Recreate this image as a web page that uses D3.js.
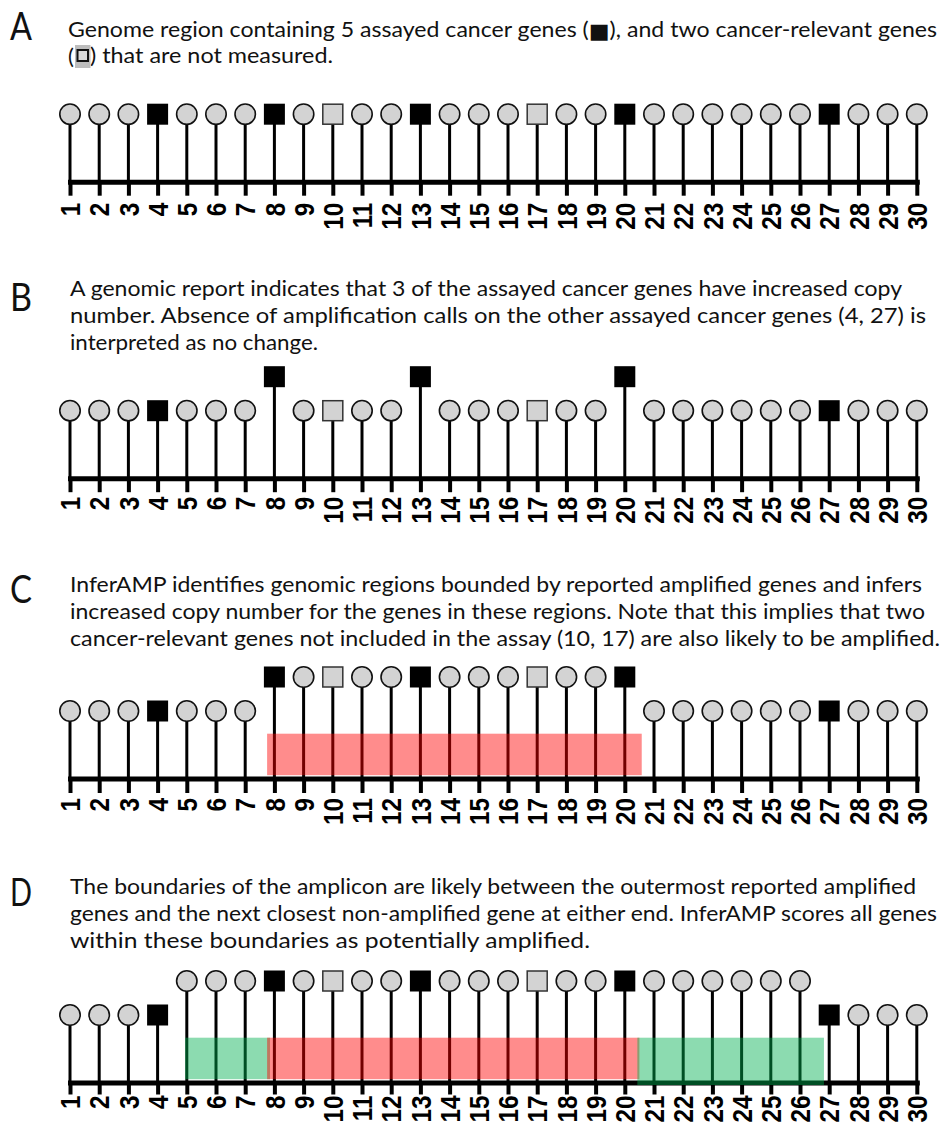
<!DOCTYPE html>
<html><head><meta charset="utf-8">
<script src="https://cdn.jsdelivr.net/npm/d3@7"></script>
<style>body{margin:0;background:#fff} svg{display:block}</style>
</head><body><svg id="c" width="944" height="1128"></svg>
<script>
// ---------------- data ----------------
const geneIds = [1,2,3,4,5,6,7,8,9,10,11,12,13,14,15,16,17,18,19,20,21,22,23,24,25,26,27,28,29,30];
const assayedGenes = [4, 8, 13, 20, 27];
const unmeasuredGenes = [10, 17];
const raisedGenesA = [];
const raisedGenesB = [8, 13, 20];
const raisedGenesC = [8,9,10,11,12,13,14,15,16,17,18,19,20];
const raisedGenesD = [5,6,7,8,9,10,11,12,13,14,15,16,17,18,19,20,21,22,23,24,25,26];
const bandsA = [];
const bandsB = [];
const bandsC = [{from: 7.75, to: 20.58, kind: "amplified"}];
const bandsD = [
  {from: 4.94, to: 7.85, kind: "boundary"},
  {from: 7.75, to: 20.5, kind: "amplified"},
  {from: 20.43, to: 26.82, kind: "boundary", overAxis: true}
];
const panelLetters = ["A", "B", "C", "D"];
const captionA = [
  "Genome region containing 5 assayed cancer genes (|■|), and two cancer-relevant genes",
  ") that are not measured."
];
const captionB = [
  "A genomic report indicates that 3 of the assayed cancer genes have increased copy",
  "number. Absence of amplification calls on the other assayed cancer genes (4, 27) is",
  "interpreted as no change."
];
const captionC = [
  "InferAMP identifies genomic regions bounded by reported amplified genes and infers",
  "increased copy number for the genes in these regions. Note that this implies that two",
  "cancer-relevant genes not included in the assay (10, 17) are also likely to be amplified."
];
const captionD = [
  "The boundaries of the amplicon are likely between the outermost reported amplified",
  "genes and the next closest non-amplified gene at either end. InferAMP scores all genes",
  "within these boundaries as potentially amplified."
];

// ---------------- layout ----------------
const panels = [
  {letter: panelLetters[0], letterY: 40, lines: captionA, lineY: [37, 64], lineX: [68, 90], lineW: [869, 243],
   axisY: 181.7, tick: 14, labelOff: 21, raised: raisedGenesA, bands: bandsA},
  {letter: panelLetters[1], letterY: 311, lines: captionB, lineY: [296, 323, 350], lineX: [70, 70, 70], lineW: [832, 856, 248],
   axisY: 478.2, tick: 14, labelOff: 18.5, raised: raisedGenesB, bands: bandsB},
  {letter: panelLetters[2], letterY: 603, lines: captionC, lineY: [592, 619, 646], lineX: [70, 70, 70], lineW: [852, 855, 870],
   axisY: 778.5, tick: 14.5, labelOff: 19.5, raised: raisedGenesC, bands: bandsC},
  {letter: panelLetters[3], letterY: 906, lines: captionD, lineY: [894, 921, 948], lineX: [70, 70, 70], lineW: [846, 867, 520],
   axisY: 1082.5, tick: 12, labelOff: 13, raised: raisedGenesD, bands: bandsD}
];

const svg = d3.select("#c");
const x = d3.scaleLinear().domain([1, 30]).range([70, 916.8]);
const lift = d3.scaleLinear().domain([0, 1, 2]).range([0, 67.5, 101.5]);
const bandColor = {amplified: "rgba(255,0,0,0.45)", boundary: "rgba(0,176,80,0.45)"};
const textFont = "Lato, 'Open Sans', sans-serif";
const labelSqueeze = 0.9;

panels.forEach((p, pi) => {
  const g = svg.append("g");

  // panel letter
  g.append("text").attr("x", 10).attr("y", p.letterY)
    .attr("font-family", textFont).attr("font-size", 38).attr("fill", "#111")
    .attr("textLength", 22).attr("lengthAdjust", "spacingAndGlyphs")
    .text(p.letter);

  // caption lines
  p.lines.forEach((line, li) => {
    const t = g.append("text").attr("x", p.lineX[li]).attr("y", p.lineY[li])
      .attr("font-family", textFont).attr("font-size", 22).attr("fill", "#111")
      .attr("textLength", p.lineW[li]).attr("lengthAdjust", "spacingAndGlyphs");
    const parts = line.split("|");
    parts.forEach(part => {
      if (part === "■") {
        t.append("tspan").attr("font-family", "'DejaVu Sans'").attr("font-size", 21).attr("dy", 1).text(part);
      } else {
        t.append("tspan").attr("dy", part.startsWith(")") ? -1 : 0).text(part);
      }
    });
  });
  if (pi === 0) {
    // "(" + unmeasured-gene glyph before the second line
    g.append("text").attr("x", 68).attr("y", p.lineY[1])
      .attr("font-family", textFont).attr("font-size", 22).attr("fill", "#111").text("(");
    g.append("rect").attr("x", 75).attr("y", 45).attr("width", 15.5).attr("height", 23).attr("fill", "#bdbdbd");
    g.append("rect").attr("x", 77.5).attr("y", 50).attr("width", 10.5).attr("height", 11)
      .attr("fill", "#d9d9d9").attr("stroke", "#111").attr("stroke-width", 2);
  }

  // axis
  const ax = g.append("g").attr("transform", `translate(0,${p.axisY})`)
    .call(d3.axisBottom(x).tickValues(geneIds).tickSize(p.tick).tickSizeOuter(0).tickFormat(d3.format("d")));
  ax.select(".domain").attr("stroke", "#000").attr("stroke-width", 5).attr("stroke-linecap", "square");
  ax.selectAll(".tick line").attr("stroke", "#000").attr("stroke-width", 4);
  ax.selectAll(".tick text")
    .attr("transform", `rotate(-90) scale(${labelSqueeze},1)`)
    .attr("x", -p.labelOff / labelSqueeze).attr("y", 0).attr("dy", "0.36em")
    .style("text-anchor", "end")
    .attr("font-family", "'Liberation Sans', Arial, sans-serif")
    .attr("font-weight", "bold").attr("font-size", 27).attr("fill", "#000");

  const nodes = geneIds.map(id => ({
    id,
    shape: assayedGenes.includes(id) ? "assayed" : unmeasuredGenes.includes(id) ? "unmeasured" : "gene",
    level: p.raised.includes(id) ? 2 : 1
  }));

  // stems
  g.append("g").selectAll("line").data(nodes).join("line")
    .attr("x1", d => x(d.id)).attr("x2", d => x(d.id))
    .attr("y1", p.axisY).attr("y2", d => p.axisY - lift(d.level))
    .attr("stroke", "#000").attr("stroke-width", 3);

  // bands
  g.append("g").selectAll("rect").data(p.bands).join("rect")
    .attr("x", d => x(d.from)).attr("width", d => x(d.to) - x(d.from))
    .attr("y", p.axisY - 44.8)
    .attr("height", d => d.overAxis ? 47.3 : 41.5)
    .attr("fill", d => bandColor[d.kind]);

  // nodes
  const ng = g.append("g").selectAll("g").data(nodes).join("g")
    .attr("transform", d => `translate(${x(d.id)},${p.axisY - lift(d.level)})`);
  ng.filter(d => d.shape === "gene").append("circle").attr("r", 10.2)
    .attr("fill", "#d3d3d3").attr("stroke", "#111").attr("stroke-width", 1.6);
  ng.filter(d => d.shape === "assayed").append("rect")
    .attr("x", -10.5).attr("y", -10.5).attr("width", 21).attr("height", 21).attr("fill", "#000");
  ng.filter(d => d.shape === "unmeasured").append("rect")
    .attr("x", -10).attr("y", -10).attr("width", 20).attr("height", 20)
    .attr("fill", "#d3d3d3").attr("stroke", "#333").attr("stroke-width", 1.5);
});
</script></body></html>
